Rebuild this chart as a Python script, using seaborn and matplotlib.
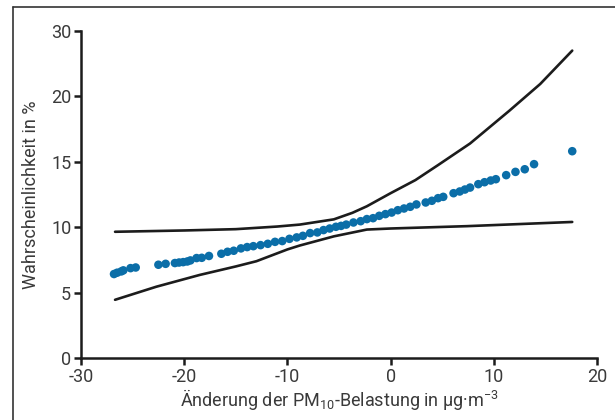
import matplotlib
matplotlib.use("Agg")
import matplotlib.pyplot as plt
from matplotlib.lines import Line2D
import seaborn as sns
import pandas as pd

# Estimated probability per change in PM10 exposure
pm_change = [-26.8, -26.5, -26.1, -25.9, -25.2, -24.7, -22.5, -21.8, -20.9, -20.5,
             -20.1, -19.7, -19.4, -18.8, -18.3, -17.6, -16.4, -15.8, -15.2, -14.5,
             -13.9, -13.3, -12.6, -11.9, -11.2, -10.5, -9.8, -9.1, -8.5, -7.8,
             -7.1, -6.5, -5.9, -5.3, -4.8, -4.3, -3.6, -2.9, -2.3, -1.7,
             -1.1, -0.5, 0.1, 0.7, 1.3, 1.9, 2.5, 3.4, 4.0, 4.6,
             5.1, 6.1, 6.7, 7.2, 7.7, 8.5, 9.1, 9.7, 10.2, 11.2,
             12.1, 13.0, 13.9, 17.6]
probability = [6.42, 6.52, 6.62, 6.70, 6.87, 6.92, 7.13, 7.20, 7.26, 7.30,
               7.33, 7.38, 7.46, 7.64, 7.66, 7.80, 7.97, 8.12, 8.20, 8.38,
               8.48, 8.55, 8.63, 8.73, 8.88, 8.94, 9.11, 9.22, 9.34, 9.55,
               9.60, 9.78, 9.90, 10.03, 10.10, 10.20, 10.36, 10.46, 10.62, 10.69,
               10.87, 11.00, 11.12, 11.30, 11.43, 11.56, 11.74, 11.89, 12.02, 12.22,
               12.32, 12.60, 12.73, 12.88, 13.03, 13.29, 13.44, 13.57, 13.67, 13.98,
               14.23, 14.43, 14.82, 15.81]

# Upper and lower confidence bounds
upper_x = [-26.7, -20.0, -15.0, -11.0, -8.8, -5.5, -3.7, -2.3, 0.0, 2.4,
           4.6, 7.7, 11.5, 14.5, 17.6]
upper_y = [9.65, 9.75, 9.85, 10.05, 10.2, 10.6, 11.1, 11.6, 12.6, 13.6,
           14.75, 16.4, 18.9, 20.95, 23.5]
lower_x = [-26.7, -22.7, -18.5, -15.0, -13.0, -10.0, -8.8, -5.5, -2.3, 0.0,
           7.4, 17.6]
lower_y = [4.45, 5.45, 6.35, 7.0, 7.4, 8.3, 8.6, 9.3, 9.82, 9.9,
           10.08, 10.4]

x_ticks = [-30, -20, -10, 0, 10, 20]
y_ticks = [0, 5, 10, 15, 20, 25]
y_tick_labels = ["0", "5", "10", "15", "20", "30"]

sns.set_theme(style="ticks")
plt.rcParams["font.family"] = ["Roboto", "DejaVu Sans"]
plt.rcParams["mathtext.default"] = "regular"
text_color = "#3a3a3a"

fig = plt.figure(figsize=(6.15, 4.2), dpi=100)
ax = fig.add_axes([81 / 615, 1 - 358 / 420, (597 - 81) / 615, (358 - 31) / 420])

points = pd.DataFrame({"x": pm_change, "y": probability})
upper = pd.DataFrame({"x": upper_x, "y": upper_y})
lower = pd.DataFrame({"x": lower_x, "y": lower_y})

sns.lineplot(data=upper, x="x", y="y", ax=ax, color="#1c1c1c", linewidth=1.9,
             sort=False, estimator=None)
sns.lineplot(data=lower, x="x", y="y", ax=ax, color="#1c1c1c", linewidth=1.9,
             sort=False, estimator=None)
sns.scatterplot(data=points, x="x", y="y", ax=ax, color="#0b6ea8", s=38,
                edgecolor="none", zorder=3)

ax.set_xlim(-30, 20)
ax.set_ylim(0, 25)
ax.set_xticks(x_ticks)
ax.set_xticklabels([str(t) for t in x_ticks])
ax.set_yticks(y_ticks)
ax.set_yticklabels(y_tick_labels)
sns.despine(ax=ax)
for side in ("left", "bottom"):
    ax.spines[side].set_linewidth(1.8)
    ax.spines[side].set_color("#1c1c1c")
ax.tick_params(axis="both", labelsize=13, colors="#1c1c1c", labelcolor=text_color,
               width=1.8, length=5, pad=2)
ax.set_xlabel(r"Änderung der PM$_{10}$-Belastung in µg·m$^{-3}$", fontsize=13,
              color=text_color, labelpad=1)
ax.set_ylabel("Wahrscheinlichkeit in %", fontsize=13, color=text_color, labelpad=8)

# frame lines around the figure
fig.add_artist(Line2D([13 / 615, 13 / 615], [0, 1 - 7 / 420], transform=fig.transFigure,
                      color="#333333", linewidth=1.2))
fig.add_artist(Line2D([13 / 615, 1], [1 - 7 / 420, 1 - 7 / 420], transform=fig.transFigure,
                      color="#333333", linewidth=1.2))

fig.savefig("out.png", dpi=100)
